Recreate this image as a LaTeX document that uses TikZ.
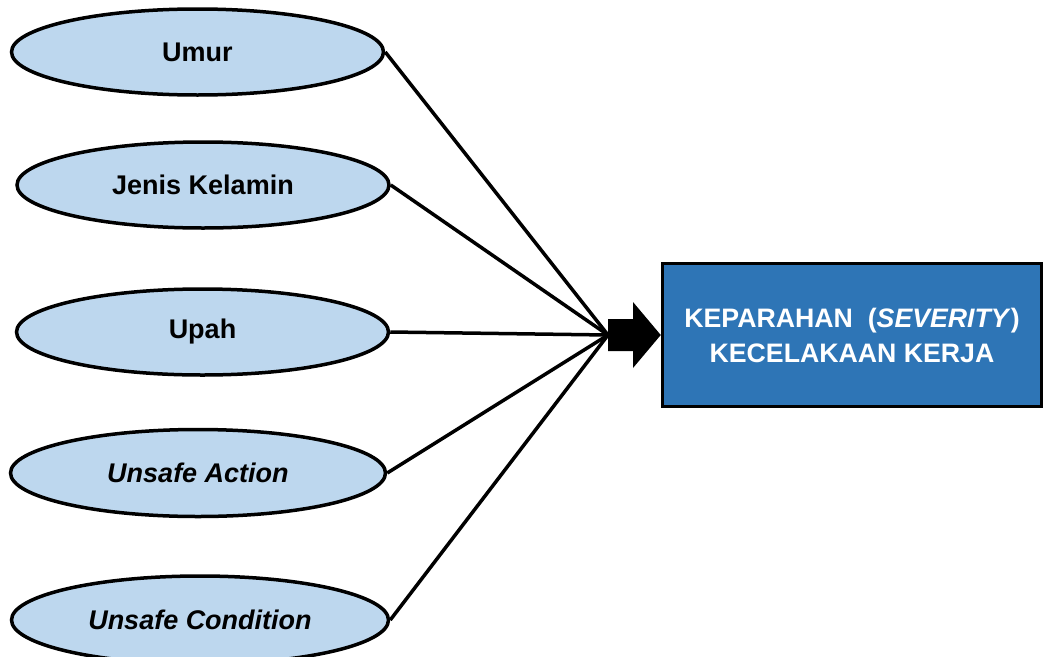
\documentclass[tikz,border=0pt]{standalone}
\usepackage{fontspec}
\setmainfont{Liberation Sans}
\usetikzlibrary{shapes.geometric}
\definecolor{ellfill}{HTML}{BDD7EE}
\definecolor{boxfill}{HTML}{2E75B6}
\begin{document}
\begin{tikzpicture}[x=1pt,y=1pt,
  factor/.style={ellipse, draw=black, line width=3.5pt, fill=ellfill, inner sep=0pt,
    minimum width=372pt, minimum height=86pt, font=\fontsize{27}{31}\selectfont\bfseries},
  target/.style={rectangle, draw=black, line width=3.5pt, fill=boxfill, inner sep=0pt,
    minimum width=379pt, minimum height=143pt, text=white, align=center,
    font=\fontsize{26.7}{35}\selectfont\bfseries},
  link/.style={draw=black, line width=3.5pt}]
\useasboundingbox (0,0) rectangle (1043,-656);
\begin{scope}
\clip (0,0) rectangle (1043,-656);
\node[factor] (umur) at (197.5,-52) {Umur};
\node[factor] (jenis) at (203,-185) {Jenis Kelamin};
\node[factor] (upah) at (202.5,-332) {Upah};
\node[factor, minimum width=375pt, minimum height=87pt] (action) at (198,-473) {\itshape Unsafe Action};
\node[factor, minimum width=377pt, minimum height=88pt] (cond) at (200,-620) {\itshape Unsafe Condition};
\node[target] (sev) at (852,-335) {KEPARAHAN\ \ (\textit{SEVERITY})\\KECELAKAAN KERJA};
\coordinate (hub) at (608,-335);
\draw[link] (umur.east) -- (hub);
\draw[link] (jenis.east) -- (hub);
\draw[link] (upah.east) -- (hub);
\draw[link] (action.east) -- (hub);
\draw[link] (cond.east) -- (hub);
\fill[black] (hub) ++(0,16) -- ++(25,0) -- ++(0,17) -- (sev.west) -- (633,-368) -- ++(0,17) -- (608,-351) -- cycle;
\end{scope}
\end{tikzpicture}
\end{document}
